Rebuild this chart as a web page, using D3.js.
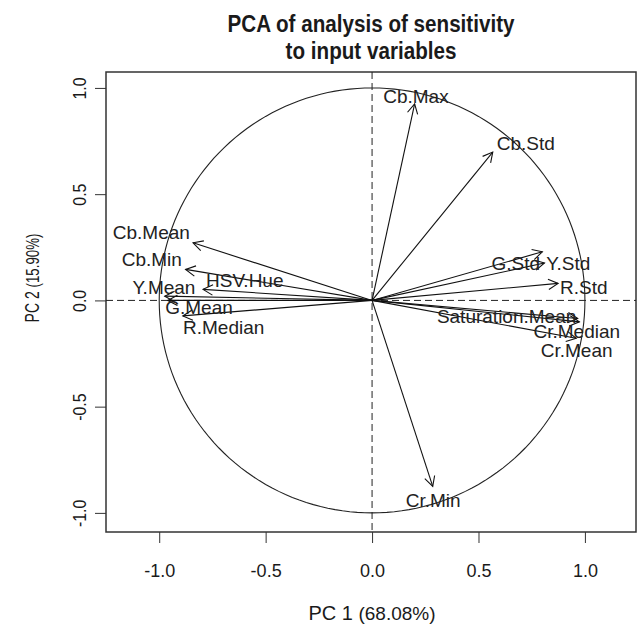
<!DOCTYPE html>
<html><head><meta charset="utf-8">
<script src="https://cdn.jsdelivr.net/npm/d3@7"></script>
<style>body{margin:0;background:#fff}svg{display:block}</style>
</head><body><svg id="c" width="639" height="627"></svg>
<script>
// ---- data ----
const variables = ["Cb.Max","Cb.Std","Cb.Mean","Cb.Min","HSV.Hue","Y.Mean","G.Mean","R.Median","G.Std","Y.Std","R.Std","Saturation.Mean","Cr.Median","Cr.Mean","Cr.Min"];
const pc1 = [0.200, 0.567, -0.841, -0.876, -0.794, -0.974, -0.960, -0.889, 0.800, 0.810, 0.874, 0.966, 0.974, 0.959, 0.285];
const pc2 = [0.925, 0.698, 0.271, 0.146, 0.052, 0.020, 0.000, -0.073, 0.229, 0.176, 0.080, -0.085, -0.101, -0.178, -0.875];
// label anchor points (in PC units)
const labelPc1 = [0.206, 0.722, -1.037, -1.035, -0.598, -0.978, -0.813, -0.697, 0.675, 0.922, 0.995, 0.632, 0.962, 0.961, 0.287];
const labelPc2 = [0.962, 0.739, 0.320, 0.195, 0.093, 0.062, -0.032, -0.127, 0.175, 0.175, 0.063, -0.072, -0.143, -0.233, -0.939];
const xTicks = [-1.0, -0.5, 0.0, 0.5, 1.0];
const yTicks = [-1.0, -0.5, 0.0, 0.5, 1.0];
const titleLines = ["PCA of analysis of sensitivity", "to input variables"];
const xTitle = ["PC 1", "(68.08%)"];
const yTitle = ["PC 2", "(15.90%)"];

(function () {
// ---- layout ----
const svg = d3.select("#c");
const pL = 106, pR = 636, pT = 72, pB = 532;
const x = d3.scaleLinear().domain([-1.25, 1.24]).range([pL, pR]);
const y = d3.scaleLinear().domain([-1.09, 1.075]).range([pB, pT]);
const font = "'Liberation Sans', Arial, Helvetica, sans-serif";
const ink = "#1a1a1a";
const fmt = d => d.toFixed(1);

// title (slightly condensed heavy face)
svg.append("g").selectAll("text").data(titleLines).join("text")
  .attr("transform", (d, i) => `translate(${(pL + pR) / 2},${32 + i * 27}) scale(0.86,1)`)
  .attr("text-anchor", "middle").attr("font-family", font).attr("font-weight", "bold")
  .attr("font-size", 24).attr("fill", ink).text(d => d);

// plot box
svg.append("rect").attr("x", pL).attr("y", pT).attr("width", pR - pL).attr("height", pB - pT)
  .attr("fill", "none").attr("stroke", "#333").attr("stroke-width", 1.5);

// axes
const xAxis = d3.axisBottom(x).tickValues(xTicks).tickFormat(fmt).tickSize(11);
const gx = svg.append("g").attr("transform", `translate(0,${pB})`).call(xAxis);
gx.select(".domain").remove();
gx.selectAll("line").attr("stroke", "#333");
gx.selectAll("text").attr("font-family", font).attr("font-size", 18).attr("fill", ink).attr("dy", null).attr("y", 45);

const yAxis = d3.axisLeft(y).tickValues(yTicks).tickFormat(fmt).tickSize(11);
const gy = svg.append("g").attr("transform", `translate(${pL},0)`).call(yAxis);
gy.select(".domain").remove();
gy.selectAll("line").attr("stroke", "#333");
gy.selectAll("text").attr("font-family", font).attr("font-size", 18).attr("fill", ink)
  .attr("text-anchor", "middle").attr("x", null).attr("dy", null)
  .attr("transform", "translate(-20,0) rotate(-90) scale(0.88,1)");

// axis titles
const xt = svg.append("text").attr("x", (pL + pR) / 2 + 1).attr("y", 620).attr("text-anchor", "middle")
  .attr("font-family", font).attr("fill", ink);
xt.append("tspan").attr("font-size", 20).text(xTitle[0] + " ");
xt.append("tspan").attr("font-size", 19).text(xTitle[1]);
const yt = svg.append("text").attr("transform", `translate(39,278) rotate(-90) scale(0.7,1)`).attr("text-anchor", "middle")
  .attr("font-family", font).attr("fill", ink);
yt.append("tspan").attr("font-size", 20).text(yTitle[0] + " ");
yt.append("tspan").attr("font-size", 19).text(yTitle[1]);

// clip
svg.append("clipPath").attr("id", "clip").append("rect")
  .attr("x", pL).attr("y", pT).attr("width", pR - pL).attr("height", pB - pT);
const plot = svg.append("g").attr("clip-path", "url(#clip)");

// dashed zero lines
plot.append("line").attr("x1", x(0)).attr("x2", x(0)).attr("y1", pT).attr("y2", pB)
  .attr("stroke", "#222").attr("stroke-dasharray", "7,4");
plot.append("line").attr("x1", pL).attr("x2", pR).attr("y1", y(0)).attr("y2", y(0))
  .attr("stroke", "#222").attr("stroke-dasharray", "7,4");

// unit circle
const circ = d3.range(0, 361, 2).map(a => [Math.cos(a * Math.PI / 180), Math.sin(a * Math.PI / 180)]);
plot.append("path").attr("d", d3.line().x(d => x(d[0])).y(d => y(d[1]))(circ))
  .attr("fill", "none").attr("stroke", "#222").attr("stroke-width", 1.1);

// arrows
const data = variables.map((v, i) => ({ v, a: pc1[i], b: pc2[i], la: labelPc1[i], lb: labelPc2[i] }));
const head = 11, ang = 28 * Math.PI / 180;
const ag = plot.append("g").attr("stroke", "#111").attr("stroke-width", 1.1).attr("fill", "none");
data.forEach(d => {
  const x0 = x(0), y0 = y(0), x1 = x(d.a), y1 = y(d.b);
  const th = Math.atan2(y1 - y0, x1 - x0);
  ag.append("line").attr("x1", x0).attr("y1", y0).attr("x2", x1).attr("y2", y1);
  const p = [th + Math.PI - ang, th + Math.PI + ang].map(t => [x1 + head * Math.cos(t), y1 + head * Math.sin(t)]);
  ag.append("path").attr("d", `M${p[0][0]},${p[0][1]}L${x1},${y1}L${p[1][0]},${p[1][1]}`);
});

// labels
plot.append("g").selectAll("text").data(data).join("text")
  .attr("x", d => x(d.la)).attr("y", d => y(d.lb)).attr("dy", "0.36em")
  .attr("text-anchor", "middle").attr("font-family", font).attr("font-size", 19)
  .attr("fill", "#222").text(d => d.v);
})();
</script></body></html>
